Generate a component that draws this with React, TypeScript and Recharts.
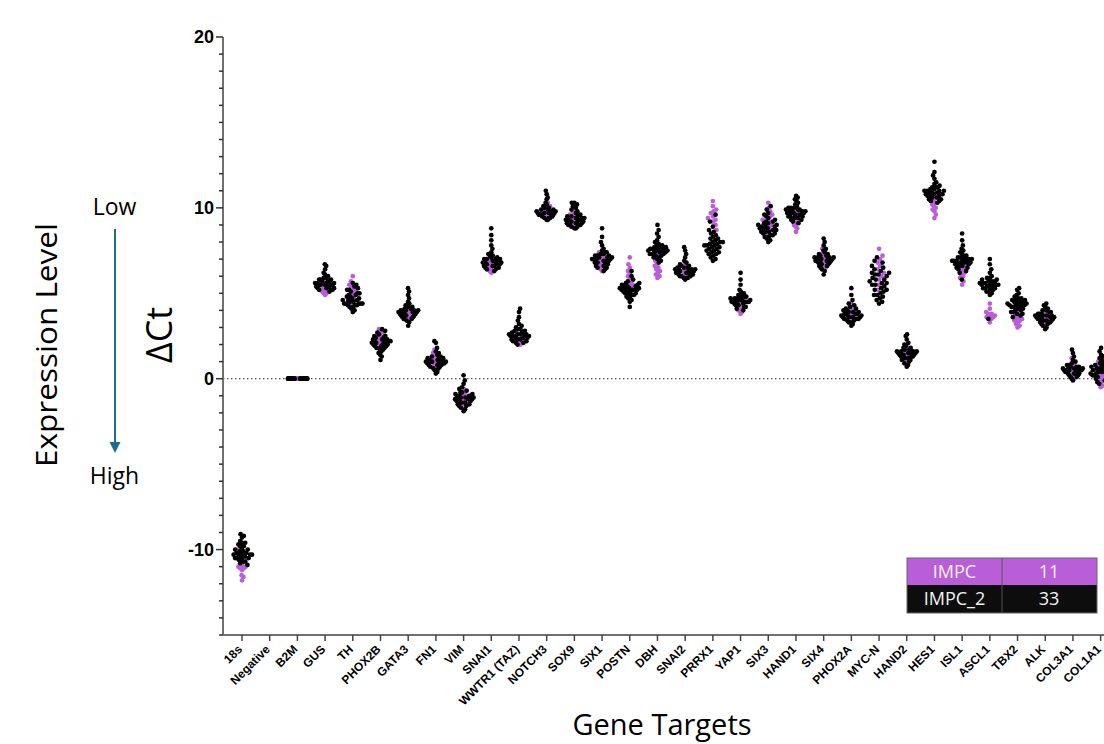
import React from 'react';
import { ScatterChart, Scatter, XAxis, YAxis, ReferenceLine } from 'recharts';

const categories = ['18s', 'Negative', 'B2M', 'GUS', 'TH', 'PHOX2B', 'GATA3', 'FN1', 'VIM', 'SNAI1', 'WWTR1 (TAZ)', 'NOTCH3', 'SOX9', 'SIX1', 'POSTN', 'DBH', 'SNAI2', 'PRRX1', 'YAP1', 'SIX3', 'HAND1', 'SIX4', 'PHOX2A', 'MYC-N', 'HAND2', 'HES1', 'ISL1', 'ASCL1', 'TBX2', 'ALK', 'COL3A1', 'COL1A1'];

const seriesNames = ['IMPC', 'IMPC_2'];
const seriesCounts = [11, 33];

// IMPC (purple)
const impcValues: number[][] = [
  [-10.0, -10.5, -10.9, -11.0, -11.0, -11.1, -11.1, -11.2, -11.5, -11.6, -11.8],
  [],
  [0, 0, 0, 0, 0, 0, 0, 0, 0, 0, 0],
  [5.8, 5.6, 5.4, 5.3, 5.2, 5.2, 5.1, 5.1, 5.0, 5.0, 4.9],
  [6.0, 5.7, 5.5, 5.4, 5.3, 5.2, 5.1, 5.0, 4.8, 4.6, 4.4],
  [2.9, 2.8, 2.7, 2.6, 2.5, 2.4, 2.3, 2.2, 2.1, 2.0, 1.8],
  [4.3, 4.1, 4.0, 3.9, 3.8, 3.8, 3.7, 3.6, 3.5, 3.5, 3.4],
  [1.7, 1.5, 1.4, 1.3, 1.2, 1.1, 1.0, 0.9, 0.8, 0.7, 0.6],
  [-0.6, -0.8, -0.9, -1.0, -1.1, -1.2, -1.3, -1.4, -1.5, -1.6, -1.7],
  [7.0, 6.9, 6.8, 6.7, 6.6, 6.5, 6.5, 6.4, 6.3, 6.3, 6.2],
  [2.9, 2.7, 2.6, 2.5, 2.4, 2.3, 2.2, 2.2, 2.1, 2.0, 2.0],
  [10.3, 10.1, 10.0, 9.9, 9.8, 9.8, 9.7, 9.6, 9.6, 9.5, 9.4],
  [10.0, 9.8, 9.7, 9.6, 9.5, 9.4, 9.3, 9.2, 9.1, 9.0, 8.9],
  [7.4, 7.2, 7.1, 7.0, 6.9, 6.8, 6.7, 6.6, 6.5, 6.4, 6.3],
  [7.1, 6.7, 6.5, 6.3, 6.2, 6.0, 5.9, 5.7, 5.6, 5.5, 5.4],
  [7.3, 6.9, 6.7, 6.6, 6.5, 6.4, 6.3, 6.2, 6.1, 6.0, 5.9],
  [6.7, 6.6, 6.5, 6.4, 6.3, 6.3, 6.2, 6.1, 6.0, 6.0, 5.9],
  [10.4, 10.1, 9.9, 9.8, 9.7, 9.5, 9.4, 9.3, 9.2, 9.0, 8.7],
  [4.9, 4.7, 4.5, 4.4, 4.3, 4.2, 4.1, 4.0, 4.0, 3.9, 3.8],
  [10.3, 10.0, 9.8, 9.6, 9.5, 9.3, 9.2, 9.0, 8.9, 8.7, 8.5],
  [9.9, 9.7, 9.5, 9.4, 9.3, 9.2, 9.1, 9.0, 8.9, 8.8, 8.6],
  [7.6, 7.3, 7.2, 7.1, 7.0, 6.9, 6.8, 6.7, 6.6, 6.5, 6.4],
  [4.4, 4.2, 4.1, 4.0, 3.9, 3.8, 3.7, 3.6, 3.5, 3.5, 3.4],
  [7.6, 7.2, 7.0, 6.8, 6.6, 6.4, 6.2, 6.0, 5.8, 5.5, 5.2],
  [2.0, 1.8, 1.7, 1.6, 1.5, 1.4, 1.3, 1.2, 1.1, 1.0, 0.9],
  [10.9, 10.6, 10.4, 10.3, 10.2, 10.1, 10.0, 9.9, 9.8, 9.6, 9.4],
  [6.9, 6.7, 6.5, 6.4, 6.3, 6.2, 6.1, 6.0, 5.9, 5.7, 5.5],
  [4.4, 4.1, 3.9, 3.8, 3.8, 3.7, 3.7, 3.6, 3.6, 3.5, 3.3],
  [3.9, 3.7, 3.6, 3.5, 3.5, 3.4, 3.4, 3.3, 3.2, 3.1, 3.0],
  [4.0, 3.9, 3.8, 3.7, 3.6, 3.6, 3.5, 3.4, 3.3, 3.2, 3.1],
  [1.2, 0.9, 0.8, 0.7, 0.6, 0.5, 0.4, 0.3, 0.2, 0.1, 0.0],
  [1.0, 0.7, 0.5, 0.3, 0.2, 0.1, 0.0, -0.1, -0.2, -0.4, -0.5],
];

// IMPC_2 (black)
const impc2Values: number[][] = [
  [-9.1, -9.2, -9.3, -9.5, -9.6, -9.7, -9.8, -9.8, -9.9, -10.0, -10.0, -10.1, -10.2, -10.2, -10.3, -10.3, -10.3, -10.4, -10.4, -10.5, -10.5, -10.6, -10.6, -10.7, -10.7, -10.8, -10.9, -10.2, -10.3, -10.4, -10.1, -9.6, -10.5],
  [],
  [0, 0, 0, 0, 0, 0, 0, 0, 0, 0, 0, 0, 0, 0, 0, 0, 0, 0, 0, 0, 0, 0, 0, 0, 0, 0, 0, 0, 0, 0, 0, 0, 0],
  [6.7, 6.6, 6.4, 6.2, 6.1, 6.0, 5.9, 5.9, 5.8, 5.8, 5.7, 5.7, 5.7, 5.6, 5.6, 5.6, 5.5, 5.5, 5.5, 5.5, 5.4, 5.4, 5.4, 5.3, 5.3, 5.3, 5.2, 5.2, 5.2, 5.1, 5.6, 5.8, 5.5],
  [5.6, 5.4, 5.3, 5.2, 5.2, 5.1, 5.0, 5.0, 4.9, 4.9, 4.8, 4.8, 4.7, 4.7, 4.6, 4.6, 4.5, 4.5, 4.4, 4.4, 4.4, 4.4, 4.4, 4.3, 4.3, 4.3, 4.2, 4.2, 4.1, 4.0, 3.9, 5.5, 4.6],
  [2.9, 2.8, 2.7, 2.6, 2.5, 2.5, 2.4, 2.4, 2.3, 2.3, 2.3, 2.2, 2.2, 2.2, 2.1, 2.1, 2.0, 2.0, 2.0, 1.9, 1.9, 1.8, 1.8, 1.7, 1.7, 1.6, 1.5, 1.4, 1.3, 1.1, 2.1, 2.2, 1.9],
  [5.3, 5.1, 4.9, 4.7, 4.5, 4.4, 4.3, 4.2, 4.2, 4.1, 4.1, 4.0, 4.0, 4.0, 3.9, 3.9, 3.9, 3.8, 3.8, 3.8, 3.8, 3.7, 3.7, 3.7, 3.6, 3.6, 3.5, 3.5, 3.4, 3.3, 3.1, 3.9, 4.0],
  [2.2, 2.1, 1.8, 1.6, 1.5, 1.4, 1.3, 1.3, 1.2, 1.2, 1.1, 1.1, 1.1, 1.0, 1.0, 1.0, 1.0, 0.9, 0.9, 0.9, 0.8, 0.8, 0.8, 0.7, 0.7, 0.6, 0.6, 0.5, 0.4, 0.3, 1.0, 0.9, 1.2],
  [0.2, -0.1, -0.3, -0.5, -0.6, -0.7, -0.8, -0.8, -0.9, -0.9, -1.0, -1.0, -1.0, -1.1, -1.1, -1.1, -1.2, -1.2, -1.2, -1.3, -1.3, -1.3, -1.4, -1.4, -1.5, -1.5, -1.6, -1.6, -1.7, -1.8, -1.9, -1.0, -1.2],
  [8.8, 8.4, 8.1, 7.8, 7.6, 7.4, 7.3, 7.2, 7.2, 7.1, 7.1, 7.0, 7.0, 7.0, 6.9, 6.9, 6.9, 6.8, 6.8, 6.8, 6.8, 6.7, 6.7, 6.7, 6.6, 6.6, 6.6, 6.5, 6.5, 6.4, 6.4, 6.3, 7.0],
  [4.1, 3.9, 3.6, 3.4, 3.2, 3.1, 3.0, 2.9, 2.9, 2.8, 2.8, 2.7, 2.7, 2.7, 2.6, 2.6, 2.6, 2.5, 2.5, 2.5, 2.4, 2.4, 2.4, 2.3, 2.3, 2.3, 2.2, 2.2, 2.1, 2.1, 2.0, 2.6, 2.5],
  [11.0, 10.8, 10.6, 10.5, 10.3, 10.2, 10.1, 10.0, 10.0, 9.9, 9.9, 9.9, 9.8, 9.8, 9.8, 9.7, 9.7, 9.7, 9.7, 9.6, 9.6, 9.6, 9.6, 9.5, 9.5, 9.5, 9.4, 9.4, 9.4, 9.3, 9.3, 9.8, 9.7],
  [10.3, 10.3, 10.2, 10.1, 10.0, 9.9, 9.8, 9.7, 9.6, 9.6, 9.5, 9.5, 9.4, 9.4, 9.4, 9.3, 9.3, 9.3, 9.2, 9.2, 9.2, 9.1, 9.1, 9.1, 9.0, 9.0, 9.0, 8.9, 8.9, 8.8, 8.8, 9.5, 9.3],
  [8.8, 8.3, 8.0, 7.8, 7.6, 7.5, 7.4, 7.4, 7.3, 7.3, 7.2, 7.2, 7.1, 7.1, 7.1, 7.0, 7.0, 7.0, 6.9, 6.9, 6.9, 6.8, 6.8, 6.7, 6.7, 6.6, 6.6, 6.5, 6.5, 6.4, 6.3, 7.2, 7.0],
  [6.3, 6.0, 5.8, 5.7, 5.6, 5.5, 5.5, 5.4, 5.4, 5.3, 5.3, 5.3, 5.3, 5.2, 5.2, 5.2, 5.1, 5.1, 5.1, 5.0, 5.0, 5.0, 4.9, 4.9, 4.8, 4.8, 4.7, 4.6, 4.5, 4.2, 5.4, 5.6, 5.2],
  [9.0, 8.7, 8.5, 8.3, 8.1, 8.0, 7.9, 7.8, 7.8, 7.7, 7.7, 7.7, 7.6, 7.6, 7.6, 7.5, 7.5, 7.5, 7.5, 7.4, 7.4, 7.4, 7.3, 7.3, 7.3, 7.2, 7.2, 7.1, 7.1, 7.0, 6.9, 6.8, 7.6],
  [7.7, 7.5, 7.3, 7.1, 6.9, 6.8, 6.7, 6.6, 6.6, 6.5, 6.5, 6.5, 6.4, 6.4, 6.4, 6.3, 6.3, 6.3, 6.3, 6.2, 6.2, 6.2, 6.1, 6.1, 6.1, 6.0, 6.0, 6.0, 5.9, 5.9, 5.8, 6.4, 6.2],
  [9.6, 9.2, 8.9, 8.7, 8.6, 8.5, 8.4, 8.3, 8.2, 8.2, 8.1, 8.0, 8.0, 7.9, 7.9, 7.8, 7.8, 7.7, 7.7, 7.6, 7.6, 7.5, 7.5, 7.4, 7.4, 7.3, 7.3, 7.2, 7.1, 7.0, 6.9, 8.0, 7.8],
  [6.2, 5.8, 5.5, 5.2, 5.0, 4.9, 4.9, 4.8, 4.8, 4.7, 4.7, 4.7, 4.6, 4.6, 4.6, 4.6, 4.5, 4.5, 4.5, 4.5, 4.4, 4.4, 4.4, 4.3, 4.3, 4.2, 4.2, 4.1, 4.0, 4.5, 4.6, 4.8, 5.1],
  [10.1, 9.9, 9.7, 9.6, 9.5, 9.4, 9.3, 9.2, 9.1, 9.1, 9.0, 9.0, 8.9, 8.9, 8.9, 8.8, 8.8, 8.7, 8.7, 8.6, 8.6, 8.5, 8.5, 8.4, 8.4, 8.3, 8.3, 8.2, 8.1, 8.0, 9.2, 8.8, 8.6],
  [10.7, 10.6, 10.5, 10.4, 10.3, 10.2, 10.1, 10.0, 10.0, 9.9, 9.9, 9.9, 9.8, 9.8, 9.8, 9.7, 9.7, 9.7, 9.6, 9.6, 9.6, 9.5, 9.5, 9.5, 9.4, 9.4, 9.3, 9.3, 9.2, 9.1, 9.9, 9.7, 10.0],
  [8.2, 8.0, 7.8, 7.6, 7.5, 7.4, 7.3, 7.3, 7.2, 7.2, 7.1, 7.1, 7.1, 7.0, 7.0, 7.0, 6.9, 6.9, 6.9, 6.8, 6.8, 6.8, 6.7, 6.7, 6.6, 6.6, 6.5, 6.4, 6.3, 6.1, 7.0, 7.1, 6.9],
  [5.3, 4.9, 4.6, 4.4, 4.3, 4.2, 4.1, 4.1, 4.0, 4.0, 3.9, 3.9, 3.9, 3.8, 3.8, 3.8, 3.7, 3.7, 3.7, 3.6, 3.6, 3.6, 3.5, 3.5, 3.5, 3.4, 3.4, 3.3, 3.3, 3.2, 3.1, 3.8, 3.6],
  [7.1, 6.9, 6.8, 6.6, 6.5, 6.4, 6.3, 6.2, 6.1, 6.0, 5.9, 5.8, 5.7, 5.6, 5.5, 5.4, 5.3, 5.2, 5.1, 5.0, 4.9, 4.8, 4.7, 4.6, 4.5, 4.4, 5.5, 5.8, 6.1, 5.2, 4.9, 5.6, 6.2],
  [2.6, 2.5, 2.3, 2.1, 2.0, 1.9, 1.8, 1.8, 1.7, 1.7, 1.6, 1.6, 1.6, 1.5, 1.5, 1.5, 1.4, 1.4, 1.4, 1.3, 1.3, 1.3, 1.2, 1.2, 1.1, 1.1, 1.0, 0.9, 0.8, 0.7, 1.5, 1.6, 1.4],
  [12.7, 12.1, 11.9, 11.7, 11.5, 11.4, 11.3, 11.2, 11.2, 11.1, 11.1, 11.0, 11.0, 11.0, 10.9, 10.9, 10.9, 10.8, 10.8, 10.8, 10.7, 10.7, 10.7, 10.6, 10.6, 10.5, 10.5, 10.4, 10.4, 10.3, 11.0, 10.8, 11.2],
  [8.5, 8.1, 7.8, 7.6, 7.5, 7.4, 7.3, 7.2, 7.2, 7.1, 7.1, 7.0, 7.0, 7.0, 6.9, 6.9, 6.9, 6.8, 6.8, 6.8, 6.7, 6.7, 6.7, 6.6, 6.6, 6.5, 6.5, 6.4, 6.3, 6.2, 5.8, 7.0, 6.8],
  [7.0, 6.7, 6.4, 6.2, 6.0, 5.9, 5.9, 5.8, 5.8, 5.7, 5.7, 5.7, 5.6, 5.6, 5.6, 5.6, 5.5, 5.5, 5.5, 5.4, 5.4, 5.4, 5.3, 5.3, 5.3, 5.2, 5.2, 5.1, 5.1, 5.0, 4.9, 3.5, 5.5],
  [5.3, 5.2, 5.0, 4.9, 4.8, 4.7, 4.7, 4.6, 4.6, 4.5, 4.5, 4.5, 4.4, 4.4, 4.4, 4.3, 4.3, 4.3, 4.2, 4.2, 4.2, 4.1, 4.1, 4.0, 4.0, 3.9, 3.9, 3.8, 3.8, 3.7, 4.6, 4.3, 3.6],
  [4.4, 4.3, 4.2, 4.1, 4.0, 4.0, 3.9, 3.9, 3.8, 3.8, 3.8, 3.7, 3.7, 3.7, 3.6, 3.6, 3.6, 3.5, 3.5, 3.5, 3.4, 3.4, 3.4, 3.3, 3.3, 3.2, 3.2, 3.1, 3.0, 2.9, 3.7, 3.6, 3.5],
  [1.7, 1.5, 1.3, 1.1, 1.0, 0.9, 0.8, 0.8, 0.7, 0.7, 0.7, 0.6, 0.6, 0.6, 0.5, 0.5, 0.5, 0.5, 0.4, 0.4, 0.4, 0.3, 0.3, 0.3, 0.2, 0.2, 0.1, 0.1, 0.0, -0.1, 0.6, 0.4, 0.5],
  [1.8, 1.6, 1.4, 1.3, 1.2, 1.1, 1.0, 0.9, 0.8, 0.8, 0.7, 0.7, 0.6, 0.6, 0.5, 0.5, 0.5, 0.4, 0.4, 0.3, 0.3, 0.3, 0.2, 0.2, 0.1, 0.1, 0.0, -0.1, -0.2, -0.3, 0.4, 0.6, 0.2],
];

const yTicks = [-15, -14, -13, -12, -11, -10, -9, -8, -7, -6, -5, -4, -3, -2, -1, 0, 1, 2, 3, 4, 5, 6, 7, 8, 9, 10, 11, 12, 13, 14, 15, 16, 17, 18, 19, 20];
const yLabelTicks = [20, 10, 0, -10];

const PURPLE = '#b95ed8';
const BLACK = '#000000';

// chart geometry
const CHART_W = 1130;
const CHART_H = 744;
const Y_AXIS_W = 223;
const TOP = 37;
const X_AXIS_H = 109;
const X_DOMAIN: [number, number] = [-0.686, 32.06];
const Y_DOMAIN: [number, number] = [-15, 20];
const PX_PER_X = (CHART_W - Y_AXIS_W) / (X_DOMAIN[1] - X_DOMAIN[0]);
const PX_PER_Y = (CHART_H - TOP - X_AXIS_H) / (Y_DOMAIN[1] - Y_DOMAIN[0]);
const DOT_R = 2.35;
const SPACING = 5.0;
const MAX_HALF = 10;

// beeswarm layout: returns horizontal offsets in pixels
function swarmOffsets(vals: number[]): number[] {
  const n = vals.length;
  const order = vals.map((_, i) => i).sort((a, b) => vals[a] - vals[b]);
  const placed: { x: number; y: number }[] = [];
  const out: number[] = new Array(n).fill(0);
  let flip = 1;
  for (const i of order) {
    const y = vals[i] * PX_PER_Y;
    const intervals: [number, number][] = [];
    for (const p of placed) {
      const dy = Math.abs(p.y - y);
      if (dy < SPACING) {
        const w = Math.sqrt(SPACING * SPACING - dy * dy);
        intervals.push([p.x - w, p.x + w]);
      }
    }
    const cands = [0];
    intervals.forEach(([a, b]) => cands.push(a, b));
    const valid = cands.filter((c) => intervals.every(([a, b]) => c <= a + 1e-6 || c >= b - 1e-6));
    let best = valid[0];
    for (const c of valid) {
      const ab = Math.abs(c);
      const bb = Math.abs(best);
      if (ab < bb - 1e-6) best = c;
      else if (Math.abs(ab - bb) <= 1e-6 && Math.sign(c) === flip) best = c;
    }
    if (Math.abs(best) > 1e-6) flip = -flip;
    placed.push({ x: best, y });
    out[i] = best;
  }
  const maxAbs = Math.max(0, ...out.map((v) => Math.abs(v)));
  const k = maxAbs > MAX_HALF ? MAX_HALF / maxAbs : 1;
  return out.map((v) => v * k);
}

const purpleData: { x: number; y: number }[] = [];
const blackData: { x: number; y: number }[] = [];
categories.forEach((_, ci) => {
  const p = impcValues[ci] || [];
  const b = impc2Values[ci] || [];
  const all = [...p, ...b];
  const offs = swarmOffsets(all);
  all.forEach((v, k) => {
    const pt = { x: ci + offs[k] / PX_PER_X, y: v };
    if (k < p.length) purpleData.push(pt);
    else blackData.push(pt);
  });
});

const XTick = (props: any) => {
  const { x, y, payload } = props;
  const label = categories[payload.value];
  const ax = x + 1;
  const ay = y + 15;
  return (
    <g>
      <line x1={x} y1={y} x2={x} y2={y + 6} stroke="#444" strokeWidth={1.5} />
      <text
        x={ax}
        y={ay}
        textAnchor="end"
        transform={`rotate(-45 ${ax} ${ay})`}
        fontFamily="'Liberation Sans', Arial, sans-serif"
        fontWeight="bold"
        fontSize={12}
        fill="#000"
      >
        {label}
      </text>
    </g>
  );
};

const YTick = (props: any) => {
  const { x, y, payload } = props;
  const major = yLabelTicks.includes(payload.value);
  return (
    <g>
      <line x1={x - (major ? 7 : 4)} y1={y} x2={x} y2={y} stroke="#333" strokeWidth={1.5} />
      {major && (
        <text
          x={x - 9}
          y={y}
          dy="0.36em"
          textAnchor="end"
          fontFamily="'Liberation Sans', Arial, sans-serif"
          fontWeight="bold"
          fontSize={18}
          fill="#000"
        >
          {payload.value}
        </text>
      )}
    </g>
  );
};

const dot = (color: string) => (props: any) => (
  <circle cx={props.cx} cy={props.cy} r={DOT_R} fill={color} />
);

export default function App() {
  const sans = "'Open Sans', 'Noto Sans', sans-serif";
  return (
    <div style={{ position: 'absolute', left: 0, top: 0, width: 1104, height: 744, overflow: 'hidden', background: '#fff' }}>
      <ScatterChart width={CHART_W} height={CHART_H} margin={{ top: TOP, right: 0, bottom: 0, left: 0 }}>
        <XAxis
          type="number"
          dataKey="x"
          domain={X_DOMAIN}
          allowDataOverflow
          ticks={categories.map((_, i) => i)}
          interval={0}
          height={X_AXIS_H}
          tickSize={0}
          tickMargin={0}
          tick={<XTick />}
          axisLine={{ stroke: '#707070', strokeWidth: 2 }}
          tickLine={false}
        />
        <YAxis
          type="number"
          dataKey="y"
          domain={Y_DOMAIN}
          allowDataOverflow
          ticks={yTicks}
          interval={0}
          width={Y_AXIS_W}
          tickSize={0}
          tickMargin={0}
          tick={<YTick />}
          axisLine={{ stroke: '#707070', strokeWidth: 2 }}
          tickLine={false}
        />
        <ReferenceLine y={0} stroke="#555" strokeWidth={1.3} strokeDasharray="1.5 2.5" />
        <Scatter name={seriesNames[0]} data={purpleData} fill={PURPLE} shape={dot(PURPLE)} isAnimationActive={false} />
        <Scatter name={seriesNames[1]} data={blackData} fill={BLACK} shape={dot(BLACK)} isAnimationActive={false} />
      </ScatterChart>
      <svg width={1104} height={744} style={{ position: 'absolute', left: 0, top: 0, pointerEvents: 'none' }}>
        <text x={57} y={345} textAnchor="middle" transform="rotate(-90 57 345)" fontFamily={sans} fontSize={30} textLength={244} lengthAdjust="spacingAndGlyphs" fill="#000">
          Expression Level
        </text>
        <text x={114.5} y={215} textAnchor="middle" fontFamily={sans} fontSize={23} fill="#000">Low</text>
        <text x={114.5} y={484} textAnchor="middle" fontFamily={sans} fontSize={23} fill="#000">High</text>
        <line x1={115} y1={229} x2={115} y2={444} stroke="#1f6b8c" strokeWidth={2} />
        <polygon points="109.5,442 120.5,442 115,453" fill="#1f6b8c" />
        <text x={172} y={335} textAnchor="middle" transform="rotate(-90 172 335)" fontFamily={sans} fontSize={36} fill="#000">
          ΔCt
        </text>
        <text x={662} y={735} textAnchor="middle" fontFamily={sans} fontSize={29} fill="#000">Gene Targets</text>
        <rect x={907} y={558} width={190} height={27} fill={PURPLE} />
        <rect x={907} y={585} width={190} height={28} fill="#0d0d0d" />
        <rect x={907} y={558} width={190} height={55} fill="none" stroke="#666" strokeWidth={1} />
        <line x1={1002} y1={558} x2={1002} y2={613} stroke="#555" strokeWidth={1} />
        <text x={954.5} y={572} dy="0.36em" textAnchor="middle" fontFamily={sans} fontSize={18} fill="#f2f2f2">{seriesNames[0]}</text>
        <text x={1049} y={572} dy="0.36em" textAnchor="middle" fontFamily={sans} fontSize={18} fill="#f2f2f2">{seriesCounts[0]}</text>
        <text x={954.5} y={599} dy="0.36em" textAnchor="middle" fontFamily={sans} fontSize={18} fill="#f2f2f2">{seriesNames[1]}</text>
        <text x={1049} y={599} dy="0.36em" textAnchor="middle" fontFamily={sans} fontSize={18} fill="#f2f2f2">{seriesCounts[1]}</text>
      </svg>
    </div>
  );
}
